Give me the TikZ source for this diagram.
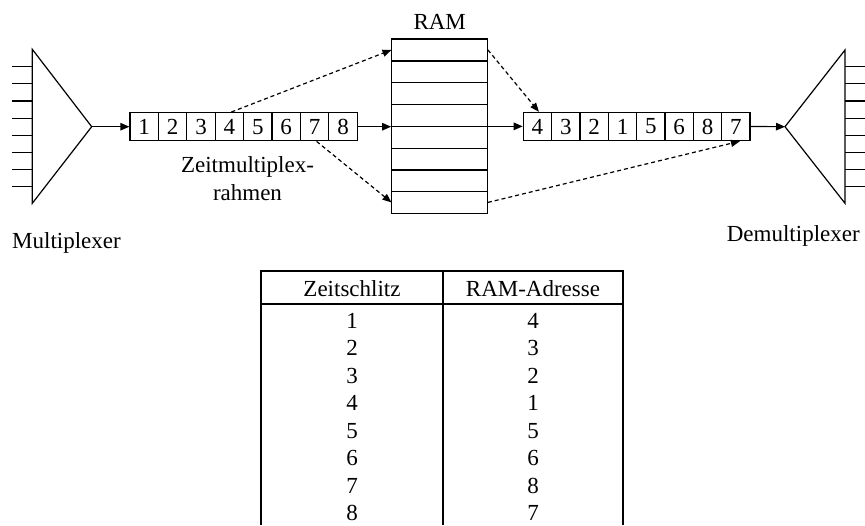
\documentclass[tikz,border=0pt]{standalone}
\usepackage{fontspec}
\setmainfont{Liberation Serif}
\usetikzlibrary{arrows.meta}
\begin{document}
\begin{tikzpicture}[x=1pt,y=-1pt,
  every node/.style={font=\fontsize{23}{27.6}\selectfont, inner sep=0pt},
  ln/.style={line width=1.2pt},
  arr/.style={ln,-{Triangle[length=9pt,width=7.5pt]}},
  darr/.style={ln,dash pattern=on 4pt off 3pt,-{Triangle[length=9pt,width=7pt]}},
  cell/.style={draw,ln,minimum width=28.4pt,minimum height=28.2pt},
  ramrow/.style={minimum width=96pt,minimum height=21.79pt},
  ramblock/.style={draw,ln,minimum width=96pt,minimum height=174.3pt},
  tline/.style={line width=1.8pt}]
\useasboundingbox (0,0) rectangle (865,525);

% Multiplexer
\coordinate (mt) at (32.3,49.3);
\coordinate (mb) at (32.3,203.3);
\coordinate (mx) at (91.7,126.7);
\draw[ln] (mt) -- (mx) -- (mb) -- cycle;
\foreach \i in {0,...,7}
  \draw[ln] (11.7,{66.7+\i*17.15}) -- (32.3,{66.7+\i*17.15});
\node[anchor=base] (mlbl) at (66.5,248.5) {Multiplexer};

% Frame 1
\foreach \d [count=\i] in {1,2,3,4,5,6,7,8}
  \node[cell] (c\i) at ({115.8+\i*28.4},126.7) {\d};
\node[anchor=base] (z1) at (247.5,172.7) {Zeitmultiplex-};
\node[anchor=base] (z2) at (247.5,200) {rahmen};

% RAM
\node[ramblock] (ram) at (439.7,126.15) {};
\foreach \i in {1,...,8}
  \node[ramrow] (r\i) at (439.7,{39+(\i-0.5)*21.79}) {};
\foreach \i in {1,...,7}
  \draw[ln] (r\i.south west) -- (r\i.south east);
\node[anchor=base] (ramlbl) at (439.7,29.3) {RAM};

% Frame 2
\foreach \d [count=\i] in {4,3,2,1,5,6,8,7}
  \node[cell, minimum width=28.35pt] (d\i) at ({509.1+\i*28.35},126.5) {\d};

% Demultiplexer
\coordinate (dt) at (845,50);
\coordinate (db) at (845,203.3);
\coordinate (dx) at (785,126.7);
\draw[ln] (dt) -- (dx) -- (db) -- cycle;
\foreach \i in {0,...,7}
  \draw[ln] (845,{66.7+\i*17.15}) -- (865,{66.7+\i*17.15});
\node[anchor=base] (dlbl) at (793.3,241) {Demultiplexer};

% connectors
\draw[arr] (mx) -- (c1.west);
\draw[arr] (c8.east) -- (c8.east -| ram.west);
\draw[arr] (r4.south east) -- (d1.west |- r4.south east);
\draw[arr] (d8.east) -- (dx);
\draw[darr] ([xshift=2pt]c4.north) -- (r1.west);
\draw[darr] ([xshift=2pt]c7.south) -- (r8.west);
\draw[darr] (r1.east) -- ([xshift=1.5pt]d1.north);
\draw[darr] (r8.east) -- ([xshift=4pt]d8.south);

% Table
\draw[tline] (261,525) -- (261,271) -- (623,271) -- (623,525);
\draw[tline] (443,271) -- (443,525);
\draw[tline] (261,304.3) -- (623,304.3);
\node[anchor=base] (h1) at (352,296.5) {Zeitschlitz};
\node[anchor=base] (h2) at (533,296.5) {RAM-Adresse};
\foreach \a/\b [count=\i] in {1/4,2/3,3/2,4/1,5/5,6/6,7/8,8/7} {
  \node[anchor=base] (s\i) at (352,{328.3+(\i-1)*27.5}) {\a};
  \node[anchor=base] (a\i) at (533,{328.3+(\i-1)*27.5}) {\b};
}
\end{tikzpicture}
\end{document}
